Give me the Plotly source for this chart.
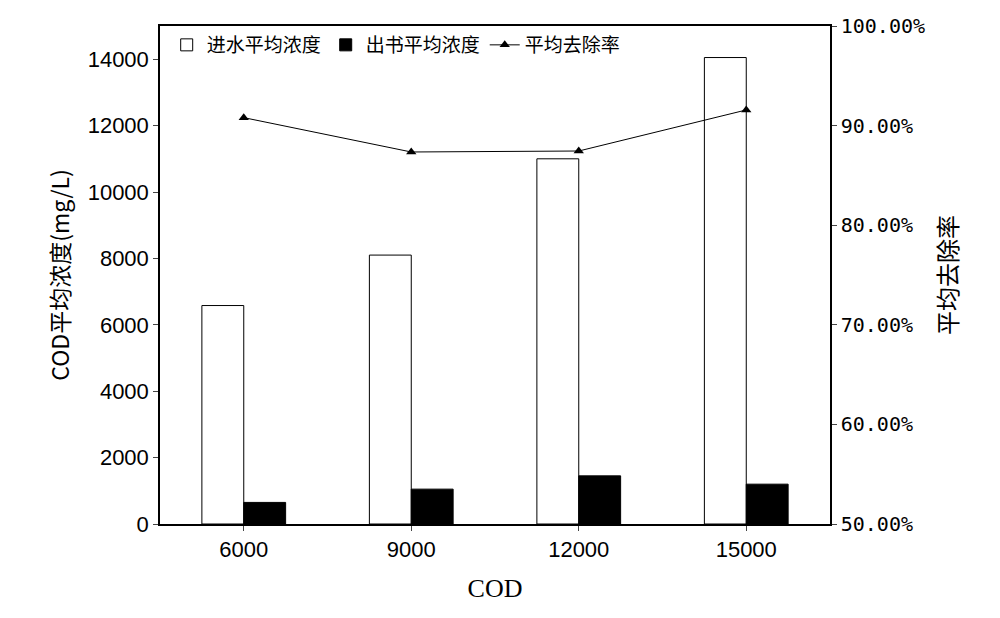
import plotly.graph_objects as go

categories = ["6000", "9000", "12000", "15000"]
inflow = [6580, 8100, 11000, 14050]
outflow = [650, 1050, 1450, 1200]
removal = [0.908, 0.8735, 0.8745, 0.9157]

font_cjk = "Noto Sans CJK SC"

fig = go.Figure()
fig.add_trace(go.Bar(name="进水平均浓度", x=categories, y=inflow,
                     marker=dict(color="white", line=dict(color="black", width=1))))
fig.add_trace(go.Bar(name="出书平均浓度", x=categories, y=outflow,
                     marker=dict(color="black", line=dict(color="black", width=1))))
fig.add_trace(go.Scatter(name="平均去除率", x=categories, y=removal, yaxis="y2",
                         mode="lines+markers",
                         line=dict(color="black", width=1),
                         marker=dict(symbol="triangle-up", size=9, color="black")))

fig.update_layout(
    width=1000, height=618,
    paper_bgcolor="white", plot_bgcolor="white",
    margin=dict(l=152, r=178, t=18, b=102, autoexpand=False),
    barmode="group", bargap=0.5, bargroupgap=0,
    font=dict(family=font_cjk, size=20, color="black"),
    showlegend=True,
    legend=dict(orientation="h", x=0.01, y=1.0, xanchor="left", yanchor="top",
                bgcolor="rgba(0,0,0,0)", font=dict(size=19), traceorder="normal"),
    xaxis=dict(title=dict(text="COD", font=dict(family="Liberation Serif", size=26), standoff=18),
               showline=True, linecolor="black", linewidth=1.5, mirror=True, ticks="outside",
               automargin=False, tickfont=dict(family="Liberation Sans", size=22)),
    yaxis=dict(title=dict(text="COD平均浓度(mg/L)", font=dict(size=23), standoff=12),
               range=[0, 15000], dtick=2000, tickformat="d", showgrid=False,
               showline=True, linecolor="black", linewidth=1.5, ticks="outside",
               automargin=False, tickfont=dict(family="Liberation Sans", size=22)),
    yaxis2=dict(title=dict(text="平均去除率", font=dict(size=24), standoff=16),
                overlaying="y", side="right", range=[0.5, 1.0], dtick=0.1,
                tickformat=".2%", showgrid=False, automargin=False,
                showline=True, linecolor="black", linewidth=1.5, ticks="outside",
                tickfont=dict(family="DejaVu Sans Mono", size=20)),
)

fig.write_html("out.html")
